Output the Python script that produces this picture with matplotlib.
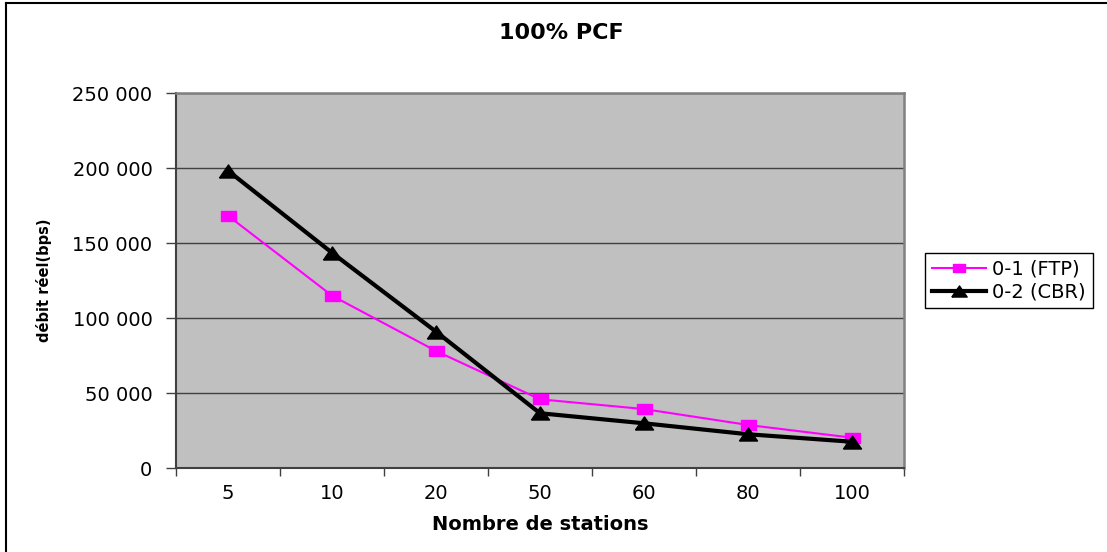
import matplotlib
matplotlib.use("Agg")
import matplotlib.pyplot as plt
from matplotlib.lines import Line2D
from matplotlib.ticker import FixedLocator, FuncFormatter

plt.rcParams['font.family'] = ['DejaVu Sans']

categories = ["5", "10", "20", "50", "60", "80", "100"]
ftp = [168400, 115100, 78200, 46000, 39500, 28900, 20400]
cbr = [198400, 143700, 91100, 36700, 30000, 22700, 17700]
yticks = [0, 50000, 100000, 150000, 200000, 250000]
title = "100% PCF"
xlabel = "Nombre de stations"
ylabel = "débit réel(bps)"
labels = ["0-1 (FTP)", "0-2 (CBR)"]

W, H = 1107, 552
fig = plt.figure(figsize=(W / 100, H / 100), dpi=100)
ax = fig.add_axes([176 / W, 1 - 468.3 / H, (904 - 176) / W, (468.3 - 93.3) / H])
ax.set_facecolor("#c0c0c0")

rect_marker = [(-1.5, -1), (1.5, -1), (1.5, 1), (-1.5, 1), (-1.5, -1)]
tri_marker = [(-9, -6.5), (9, -6.5), (0, 6.5), (-9, -6.5)]

x = list(range(len(categories)))
l1, = ax.plot(x, ftp, color="#ff00ff", lw=1.5, marker=rect_marker, ms=10.8,
              mec="#ff00ff", mfc="#ff00ff", zorder=3)
l2, = ax.plot(x, cbr, color="black", lw=3, marker=tri_marker, ms=13,
              mec="black", mfc="black", zorder=4)

ax.set_xlim(-0.5, len(categories) - 0.5)
ax.set_ylim(0, 250000)
ax.xaxis.set_major_locator(FixedLocator([i - 0.5 for i in range(len(categories) + 1)]))
ax.xaxis.set_major_formatter(FuncFormatter(lambda v, p: ""))
ax.xaxis.set_minor_locator(FixedLocator(x))
ax.set_xticklabels(categories, minor=True)
ax.tick_params(axis="x", which="major", direction="out", length=6, width=1, color="#404040")
ax.tick_params(axis="x", which="minor", length=0, pad=11, labelsize=14)
ax.set_yticks(yticks)
ax.set_yticklabels([f"{v:,}".replace(",", " ") for v in yticks])
ax.tick_params(axis="y", direction="out", length=7, width=1, color="#404040", labelsize=14, pad=10)
ax.grid(axis="y", color="#404040", lw=1.0)
ax.set_axisbelow(True)

for s in ["left", "bottom"]:
    ax.spines[s].set_color("#404040")
    ax.spines[s].set_linewidth(1.5)
for s in ["top", "right"]:
    ax.spines[s].set_color("#808080")
    ax.spines[s].set_linewidth(1.8)

fig.text(561 / W, 1 - 33 / H, title, ha="center", va="center", fontsize=16, fontweight="bold")
fig.text(540 / W, 1 - 525 / H, xlabel, ha="center", va="center", fontsize=14, fontweight="bold")
fig.text(44 / W, 1 - 280 / H, ylabel, ha="center", va="center", rotation=90, fontsize=10.5, fontweight="bold")

leg = fig.legend([l1, l2], labels, loc="upper left", bbox_to_anchor=(925 / W, 1 - 253 / H),
                 frameon=True, fancybox=False, edgecolor="black", fontsize=14,
                 handlelength=2.8, handletextpad=0.3, borderpad=0.35, labelspacing=0.2,
                 borderaxespad=0, markerscale=0.85, framealpha=1)
leg.get_frame().set_linewidth(1.0)

fig.add_artist(Line2D([5.5 / W, 5.5 / W], [0, 1 - 2.5 / H], color="black", lw=1.5, transform=fig.transFigure))
fig.add_artist(Line2D([5.5 / W, 1], [1 - 2.5 / H, 1 - 2.5 / H], color="black", lw=1.5, transform=fig.transFigure))

fig.savefig("out.png", dpi=100)
